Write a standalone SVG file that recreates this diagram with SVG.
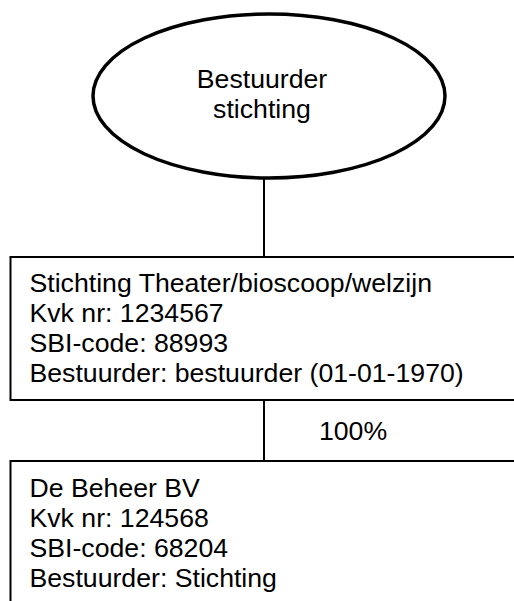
<svg xmlns="http://www.w3.org/2000/svg" width="514" height="601" viewBox="0 0 514 601">
<style>
text{font-family:"Liberation Sans",Arial,sans-serif;font-size:26.67px;fill:#000}
.box{fill:#fff;stroke:#000;stroke-width:2}
.con{stroke:#000;stroke-width:2;fill:none}
</style>
<rect width="514" height="601" fill="#fff"/>
<g id="connectors">
<line class="con" x1="264" y1="178" x2="264" y2="257"/>
<line class="con" x1="264" y1="400" x2="264" y2="461"/>
<text x="353" y="440" text-anchor="middle">100%</text>
</g>
<g id="bestuurder">
<ellipse cx="269" cy="96" rx="176" ry="82" fill="#fff" stroke="#000" stroke-width="3.5"/>
<text x="262" y="88" text-anchor="middle">Bestuurder</text>
<text x="262" y="118" text-anchor="middle">stichting</text>
</g>
<g id="stichting">
<rect class="box" x="10.5" y="257" width="520" height="143"/>
<text x="29.5" y="292">Stichting Theater/bioscoop/welzijn</text>
<text x="29.5" y="322">Kvk nr: 1234567</text>
<text x="29.5" y="352">SBI-code: 88993</text>
<text x="29.5" y="382">Bestuurder: bestuurder (01-01-1970)</text>
</g>
<g id="beheer">
<rect class="box" x="10.5" y="461" width="520" height="160"/>
<text x="29.5" y="497">De Beheer BV</text>
<text x="29.5" y="527">Kvk nr: 124568</text>
<text x="29.5" y="557">SBI-code: 68204</text>
<text x="29.5" y="587">Bestuurder: Stichting</text>
</g>
</svg>
